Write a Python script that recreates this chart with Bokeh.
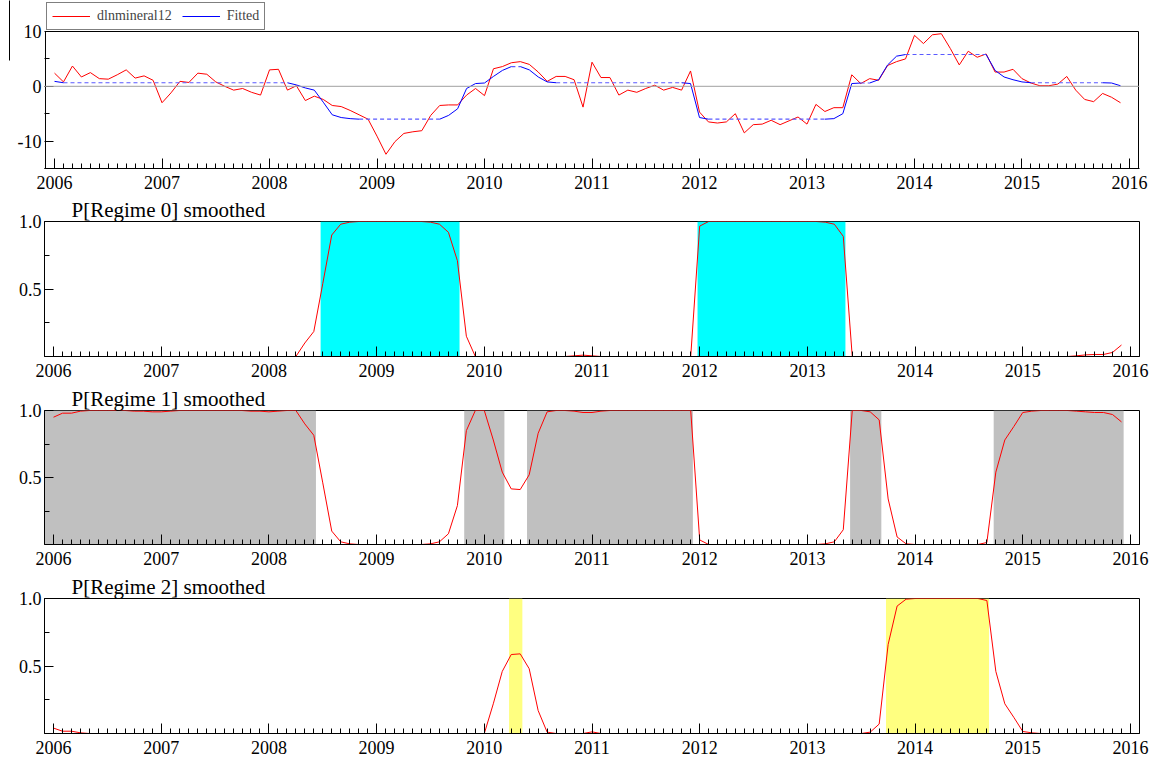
import numpy as np
from bokeh.plotting import figure
from bokeh.models import (FixedTicker, Legend, LegendItem, Span, PrintfTickFormatter,
                          BoxAnnotation, LinearAxis, Range1d)
from bokeh.layouts import column
from bokeh.embed import file_html
from bokeh.resources import INLINE

# ---------------- data ----------------
start_year = 2006
n_months = 120
years = list(range(2006, 2017))

dlnmineral12 = [
    2.4, 0.8, 3.7, 1.7, 2.5, 1.4, 1.3, 2.1, 3.0, 1.5, 1.9, 1.1,
    -3.0, -1.2, 0.9, 0.7, 2.4, 2.2, 0.8, 0.0, -0.7, -0.4, -1.1, -1.6,
    3.0, 3.1, -0.7, 0.1, -2.6, -1.8, -2.4, -3.5, -3.7, -4.4, -5.2, -6.0,
    -9.1, -12.4, -10.1, -8.6, -8.3, -8.1, -5.3, -3.5, -3.4, -3.4, -1.6, -0.4,
    -1.7, 3.2, 3.6, 4.3, 4.5, 4.0, 2.6, 0.9, 1.8, 1.8, 1.2, -3.8,
    4.4, 1.6, 1.6, -1.6, -0.7, -1.1, -0.4, 0.2, -0.7, -0.2, -0.7, 2.8,
    -4.7, -6.5, -6.7, -6.5, -5.0, -8.5, -7.0, -6.9, -6.2, -7.0, -6.3, -5.6,
    -6.9, -3.3, -4.6, -3.9, -3.9, 2.1, 0.5, 1.4, 1.1, 3.8, 4.5, 5.0,
    9.3, 7.8, 9.4, 9.6, 6.9, 3.9, 6.4, 5.3, 5.9, 2.6, 2.6, 3.1,
    1.4, 0.6, 0.1, 0.1, 0.4, 1.8, -0.7, -2.4, -2.8, -1.3, -2.0, -3.0,
]

fitted = [
    0.9, 0.65, 0.65, 0.65, 0.65, 0.65, 0.65, 0.65, 0.65, 0.65, 0.65, 0.65,
    0.65, 0.65, 0.65, 0.65, 0.65, 0.65, 0.65, 0.65, 0.65, 0.65, 0.65, 0.65,
    0.65, 0.65, 0.65, 0.25, -0.3, -0.7, -2.9, -5.2, -5.7, -5.9, -6.0, -6.0,
    -6.0, -6.0, -6.0, -6.0, -6.0, -6.0, -6.0, -6.0, -5.3, -4.1, -0.4, 0.5,
    0.6, 1.8, 2.9, 3.6, 3.6, 3.0, 1.7, 0.8, 0.65, 0.65, 0.65, 0.65,
    0.65, 0.65, 0.65, 0.65, 0.65, 0.65, 0.65, 0.65, 0.65, 0.65, 0.65, 0.5,
    -5.7, -6.0, -6.0, -6.0, -6.0, -6.0, -6.0, -6.0, -6.0, -6.0, -6.0, -6.0,
    -6.0, -6.0, -6.0, -5.9, -5.0, 0.5, 0.6, 0.6, 1.2, 3.9, 5.5, 5.8,
    5.8, 5.8, 5.8, 5.8, 5.8, 5.8, 5.8, 5.8, 5.8, 2.9, 1.7, 1.2,
    0.8, 0.65, 0.65, 0.65, 0.65, 0.65, 0.65, 0.65, 0.65, 0.65, 0.6, 0.1,
]

p_regime0 = [
    0, 0, 0, 0, 0, 0, 0, 0, 0, 0, 0, 0,
    0, 0, 0, 0, 0, 0, 0, 0, 0, 0, 0, 0,
    0, 0, 0, 0, 0.10, 0.185, 0.54, 0.90, 0.98, 0.995, 1.0, 1.0,
    1.0, 1.0, 1.0, 1.0, 1.0, 1.0, 0.995, 0.98, 0.92, 0.71, 0.15, 0.0,
    0, 0, 0, 0, 0, 0, 0, 0, 0, 0, 0.005, 0.01,
    0.005, 0, 0, 0, 0, 0, 0, 0, 0, 0, 0, 0,
    0.966, 1.0, 1.0, 1.0, 1.0, 1.0, 1.0, 1.0, 1.0, 1.0, 1.0, 1.0,
    1.0, 1.0, 0.995, 0.98, 0.89, 0, 0, 0, 0, 0, 0, 0,
    0, 0, 0, 0, 0, 0, 0, 0, 0, 0, 0, 0,
    0, 0, 0, 0, 0, 0, 0.005, 0.012, 0.015, 0.015, 0.03, 0.085,
]

p_regime1 = [
    0.95, 0.98, 0.98, 0.995, 1, 1, 1, 1, 1, 0.995, 0.995, 0.99,
    0.99, 0.995, 1, 1, 1, 1, 1, 1, 1, 1, 0.995, 0.995,
    0.99, 0.995, 1, 1, 0.90, 0.815, 0.46, 0.10, 0.02, 0.005, 0, 0,
    0, 0, 0, 0, 0, 0, 0.005, 0.02, 0.08, 0.29, 0.85, 1.0,
    1.0, 0.78, 0.54, 0.415, 0.41, 0.52, 0.83, 0.99, 1, 1, 0.995, 0.985,
    0.985, 0.995, 1, 1, 1, 1, 1, 1, 1, 1, 1, 1,
    0.034, 0, 0, 0, 0, 0, 0, 0, 0, 0, 0, 0,
    0, 0, 0.005, 0.02, 0.11, 1.0, 1.0, 0.99, 0.93, 0.34, 0.056, 0.005,
    0, 0, 0, 0, 0, 0, 0, 0, 0.015, 0.54, 0.78, 0.88,
    0.985, 0.995, 1, 1, 1, 1, 0.995, 0.99, 0.985, 0.985, 0.97, 0.915,
]

p_regime2 = [
    0.04, 0.017, 0.017, 0.005, 0, 0, 0, 0, 0, 0, 0, 0,
    0, 0, 0, 0, 0, 0, 0, 0, 0, 0, 0, 0,
    0, 0, 0, 0, 0, 0, 0, 0, 0, 0, 0, 0,
    0, 0, 0, 0, 0, 0, 0, 0, 0, 0, 0, 0,
    0, 0.22, 0.46, 0.585, 0.59, 0.48, 0.17, 0.01, 0, 0, 0, 0,
    0.012, 0, 0, 0, 0, 0, 0, 0, 0, 0, 0, 0,
    0, 0, 0, 0, 0, 0, 0, 0, 0, 0, 0, 0,
    0, 0, 0, 0, 0, 0, 0, 0.01, 0.07, 0.66, 0.944, 0.995,
    1, 1, 1, 1, 1, 1, 1, 1, 0.985, 0.46, 0.22, 0.12,
    0.015, 0.005, 0, 0, 0, 0, 0, 0, 0, 0, 0, 0,
]

regime_titles = ["P[Regime 0] smoothed", "P[Regime 1] smoothed", "P[Regime 2] smoothed"]
regime_colors = ["#00ffff", "#c0c0c0", "#ffff80"]

# ---------------- helpers ----------------
t = start_year + np.arange(n_months) / 12.0
X0, X1 = 2005.916, 2016.084
FONT = "'Liberation Serif', 'Times New Roman', serif"
minor_months = list(start_year + np.arange(n_months + 1) / 12.0)
FIG_W = 1158


def style_axes(p):
    xa = p.xaxis[0]
    xa.ticker = FixedTicker(ticks=years, minor_ticks=minor_months)
    xa.major_tick_in = 10
    xa.major_tick_out = 0
    xa.minor_tick_in = 5
    xa.minor_tick_out = 0
    xa.major_label_standoff = 7
    xa.major_label_text_font = FONT
    xa.major_label_text_font_size = "18px"
    xa.major_label_text_color = "black"
    xa.axis_line_color = "black"
    xa.major_tick_line_color = "black"
    xa.minor_tick_line_color = "black"
    ya = p.yaxis[0]
    ya.major_tick_in = 9
    ya.major_tick_out = 0
    ya.minor_tick_in = 5
    ya.minor_tick_out = 0
    ya.major_label_standoff = 3
    ya.major_label_text_font = FONT
    ya.major_label_text_font_size = "18px"
    ya.major_label_text_color = "black"
    ya.axis_line_color = "black"
    ya.major_tick_line_color = "black"
    ya.minor_tick_line_color = "black"


def make_fig(height, top, bottom, y_range, title):
    p = figure(width=FIG_W, height=height, x_range=(X0, X1), y_range=y_range,
               output_backend="svg", toolbar_location=None,
               min_border_left=44, min_border_right=19,
               min_border_top=top, min_border_bottom=bottom, title=title)
    p.grid.visible = False
    p.outline_line_color = "black"
    p.outline_line_width = 1
    p.background_fill_color = "white"
    p.border_fill_color = "white"
    style_axes(p)
    p.title.align = "left"
    p.title.offset = 27
    p.title.standoff = 0
    p.title.text_font = FONT
    p.title.text_font_size = "21px"
    p.title.text_font_style = "normal"
    p.title.text_color = "black"
    return p


# ---------------- top panel ----------------
# The frame is stretched up to the top of the canvas so that the legend
# (which sits above the plot box in the reference) is not clipped; the
# visible plot box is drawn as an outline from -15 to 10.
Y_LO, Y_HI = -15, 10
PX_PER_UNIT = 137 / (Y_HI - Y_LO)
FRAME_H = 168
PAD_X = (X1 - X0) / 1094.0
p1 = figure(width=FIG_W, height=FRAME_H + 27,
            x_range=(X0 - PAD_X, X1 + PAD_X),
            y_range=(Y_LO, Y_LO + FRAME_H / PX_PER_UNIT),
            output_backend="svg", toolbar_location=None, title=None,
            min_border_left=43, min_border_right=18,
            min_border_top=0, min_border_bottom=27)
p1.grid.visible = False
p1.outline_line_color = None
p1.background_fill_color = "white"
p1.border_fill_color = "white"
style_axes(p1)
p1.yaxis[0].axis_line_color = None
p1.yaxis[0].ticker = FixedTicker(ticks=[-10, 0, 10], minor_ticks=[-15, -5, 5])
p1.yaxis[0].major_label_overrides = {-10: "-10", 0: "0", 10: "10"}
p1.yaxis[0].axis_label = " "
p1.yaxis[0].axis_label_text_font_size = "1px"
p1.yaxis[0].axis_label_standoff = 1

p1.add_layout(BoxAnnotation(left=X0, right=X1, bottom=Y_LO, top=Y_HI,
                            fill_alpha=0, line_color="black", line_alpha=1,
                            line_width=1))
p1.add_layout(Span(location=0, dimension="width", line_color="#a0a0a0", line_width=1))

# short stroke at the far left of the reference page (an extra bare axis)
p1.extra_y_ranges = {"stroke": Range1d(0, FRAME_H)}
stroke_axis = LinearAxis(y_range_name="stroke", bounds=(FRAME_H - 60, FRAME_H),
                         ticker=FixedTicker(ticks=[]), major_tick_in=0, major_tick_out=0,
                         minor_tick_in=0, minor_tick_out=0, major_label_text_font_size="0px",
                         axis_line_color="black", axis_line_width=1)
p1.add_layout(stroke_axis, "left")

r_red = p1.line(t, dlnmineral12, line_color="#ff0000", line_width=1)

# fitted: solid where it moves, dashed where it sits on a regime mean
f = np.array(fitted)
solid_xs, solid_ys, dash_xs, dash_ys = [], [], [], []
cur_flat = None
seg_x, seg_y = [], []
for i in range(n_months - 1):
    flat = abs(f[i + 1] - f[i]) < 1e-9
    if flat != cur_flat:
        if seg_x:
            (dash_xs if cur_flat else solid_xs).append(seg_x)
            (dash_ys if cur_flat else solid_ys).append(seg_y)
        seg_x, seg_y = [t[i]], [f[i]]
        cur_flat = flat
    seg_x.append(t[i + 1])
    seg_y.append(f[i + 1])
if seg_x:
    (dash_xs if cur_flat else solid_xs).append(seg_x)
    (dash_ys if cur_flat else solid_ys).append(seg_y)

p1.multi_line(dash_xs, dash_ys, line_color="#5a5aff", line_width=1.2, line_dash="4 3")
r_blue = p1.multi_line(solid_xs, solid_ys, line_color="#0000ff", line_width=1)

legend = Legend(items=[LegendItem(label="dlnmineral12", renderers=[r_red]),
                       LegendItem(label="Fitted", renderers=[r_blue])],
                orientation="horizontal", location=(2, FRAME_H - 30),
                label_text_font=FONT, label_text_font_size="14px",
                glyph_width=38, glyph_height=14, label_height=14,
                label_standoff=7, spacing=10, padding=5, margin=0,
                border_line_color="black", border_line_width=1,
                background_fill_color="white")
p1.add_layout(legend, "center")

# ---------------- regime panels ----------------
probs = [np.array(p_regime0), np.array(p_regime1), np.array(p_regime2)]
classification = np.argmax(np.vstack(probs), axis=0)

figs = [p1]
specs = [(189, 24, 28), (188, 24, 28), (189, 24, 28)]
for k in range(3):
    h, top, bottom = specs[k]
    p = make_fig(h, top, bottom, (0, 1), regime_titles[k])
    p.yaxis[0].ticker = FixedTicker(ticks=[0.5, 1.0], minor_ticks=[0.25, 0.75])
    p.yaxis[0].formatter = PrintfTickFormatter(format="%.1f")
    # shaded spans where this regime is the most likely one
    lefts, rights = [], []
    i = 0
    while i < n_months:
        if classification[i] == k:
            j = i
            while j + 1 < n_months and classification[j + 1] == k:
                j += 1
            lefts.append(X0 if i == 0 else t[i] - 0.02)
            rights.append(t[j] + 0.02)
            i = j + 1
        else:
            i += 1
    if lefts:
        p.quad(left=lefts, right=rights, bottom=0, top=1,
               fill_color=regime_colors[k], line_color=None)
    p.line(t, probs[k], line_color="#ff0000", line_width=1)
    figs.append(p)

layout = column(*figs, spacing=0)
open("out.html", "w").write(file_html(layout, INLINE))
